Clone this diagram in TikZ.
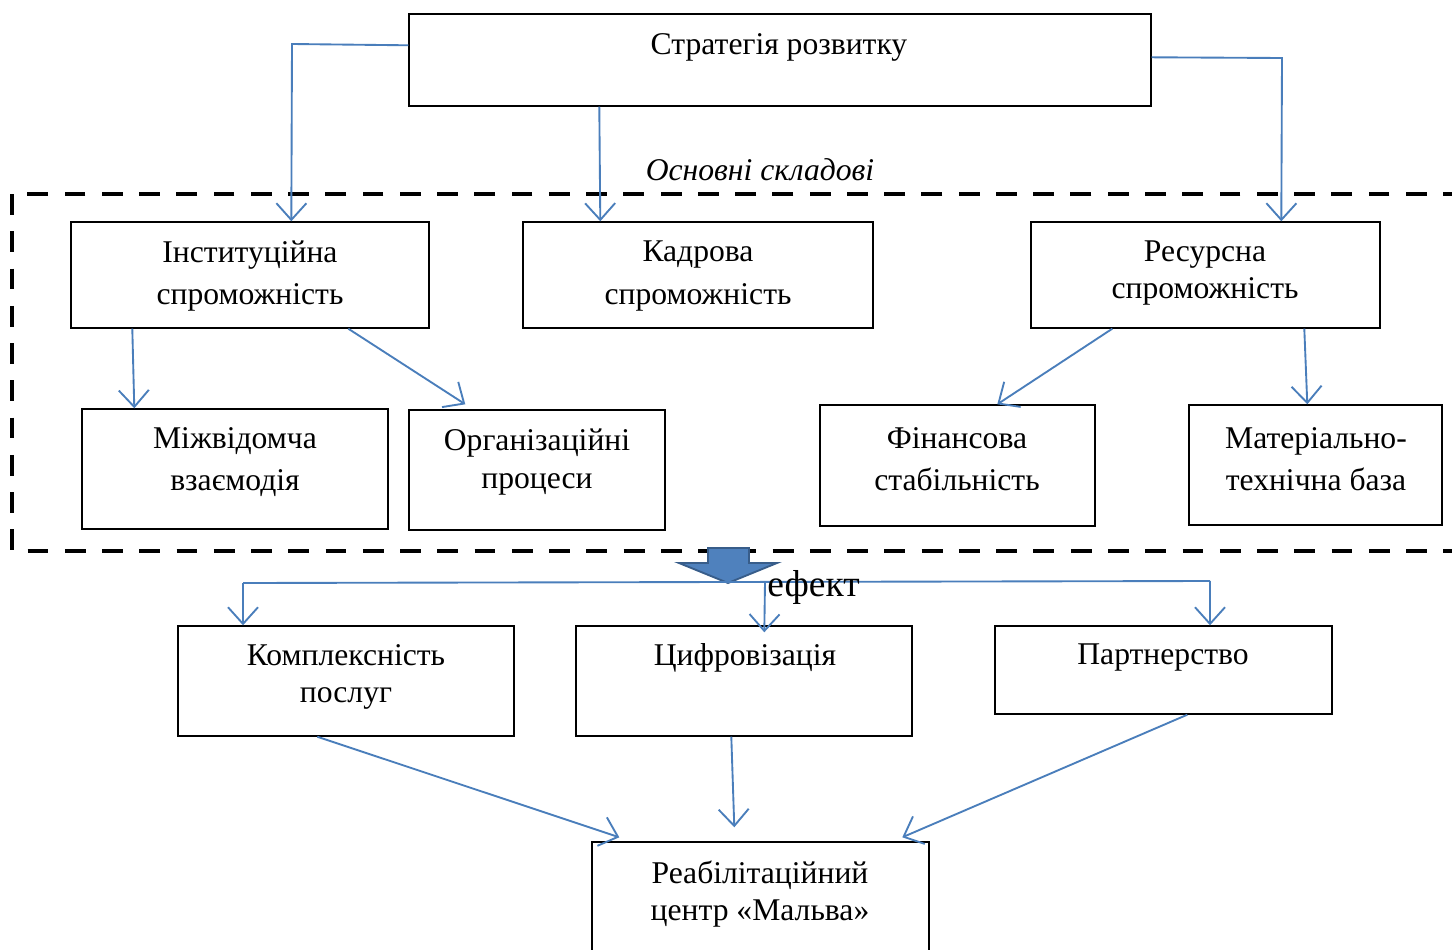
\documentclass[tikz,border=0pt]{standalone}
\usepackage{fontspec}
\setmainfont{Liberation Serif}
\usetikzlibrary{arrows.meta,calc,fit}
\definecolor{lineblue}{RGB}{74,126,187}
\definecolor{arrowfill}{RGB}{79,129,189}
\definecolor{arrowedge}{RGB}{56,93,138}

\begin{document}
\begin{tikzpicture}[x=0.015cm,y=-0.015cm,
  >={Straight Barb[length=2.5mm,width=4.5mm]},
  box/.style={draw,line width=0.6pt,inner sep=0pt},
  txt/.style={align=center,inner sep=0pt,font=\fontsize{13.5}{16}\selectfont},
  con/.style={draw=lineblue,line width=0.8pt}]
\useasboundingbox (0,0) rectangle (1452,950);
\clip (0,0) rectangle (1452,950);
%%Frame of the components
\draw[line width=2.1pt,dash pattern=on 8.9pt off 7pt] (12,194) rectangle (1480,551);
%%Boxes
\node[box,fit={(409,14) (1151,106)}] (strat) {};
\node[box,fit={(71,222) (429,328)}] (inst) {};
\node[box,fit={(523,222) (873,328)}] (kadr) {};
\node[box,fit={(1031,222) (1380,328)}] (res) {};
\node[box,fit={(82,409) (388,529)}] (mizh) {};
\node[box,fit={(409,410) (665,530)}] (org) {};
\node[box,fit={(820,405) (1095,526)}] (fin) {};
\node[box,fit={(1189,405) (1442,525)}] (mat) {};
\node[box,fit={(178,626) (514,736)}] (kompl) {};
\node[box,fit={(576,626) (912,736)}] (tsyf) {};
\node[box,fit={(995,626) (1332,714)}] (partn) {};
\node[box,fit={(592,842) (929,975)}] (reab) {};
%%Labels
\node[txt] (stratT) at (779,47) {Стратегія розвитку};
\node[txt,font=\fontsize{13.5}{16}\selectfont\itshape] (osn) at (760,170) {Основні складові};
\node[txt] (instT) at (250,276) {Інституційна\\[2.2pt]спроможність};
\node[txt] (kadrT) at (698,276) {Кадрова\\[2.2pt]спроможність};
\node[txt] (resT) at (1205,273) {Ресурсна\\спроможність};
\node[txt] (mizhT) at (235,462) {Міжвідомча\\[2.2pt]взаємодія};
\node[txt] (orgT) at (537,462) {Організаційні\\процеси};
\node[txt] (finT) at (957,459) {Фінансова\\[1.9pt]стабільність};
\node[txt] (matT) at (1316,459) {Матеріально-\\[1.9pt]технічна база};
\node[txt] (komplT) at (346,677) {Комплексність\\послуг};
\node[txt] (tsyfT) at (745,658) {Цифровізація};
\node[txt] (partnT) at (1163,658) {Партнерство};
\node[txt] (reabT) at (760,894) {Реабілітаційний\\центр «Мальва»};
%%Strategy to components
\draw[con,->] ($(strat.north west)+(0,32)$) -- (292,44) -- ($(inst.north west)+(221,0)$);
\draw[con,->] ($(strat.south west)+(191,0)$) -- ($(kadr.north west)+(78,0)$);
\draw[con,->] ($(strat.north east)+(0,44)$) -- (1282,58) -- ($(res.north west)+(251,0)$);
\draw[con,->] ($(inst.south west)+(62,0)$) -- ($(mizh.north west)+(53,0)$);
\draw[con,->] ($(inst.south west)+(278,0)$) -- ($(org.north west)+(57,-5)$);
\draw[con,->] ($(res.south west)+(82,0)$) -- ($(fin.north west)+(178,0)$);
\draw[con,->] ($(res.south west)+(274,0)$) -- ($(mat.north west)+(119,0)$);
%%Effect
\draw[draw=arrowedge,fill=arrowfill,line width=0.8pt] (708,548) -- (749,548) -- (749,563) -- (777,563)
  -- (728,583) -- (679,563) -- (708,563) -- cycle;
\coordinate (el) at (243,583);
\coordinate (em) at (765,582);
\coordinate (er) at (1210,581);
\draw[con] (el) -- (er);
\node[txt,font=\fontsize{16}{18}\selectfont,anchor=west] (eff) at (767,587) {ефект};
\draw[con,->] (el) -- (el |- kompl.north);
\draw[con,->] (em) -- ($(tsyf.north west)+(189,7)$);
\draw[con,->] (er) -- (er |- partn.north);
%%Outcome
\draw[con,->] ($(kompl.south west)+(140,0)$) -- ($(reab.north west)+(28,-4)$);
\draw[con,->] ($(tsyf.south west)+(156,0)$) -- ($(reab.north west)+(143,-14)$);
\draw[con,->] ($(partn.south west)+(193,0)$) -- ($(reab.north west)+(311,-4)$);
\end{tikzpicture}
\end{document}
